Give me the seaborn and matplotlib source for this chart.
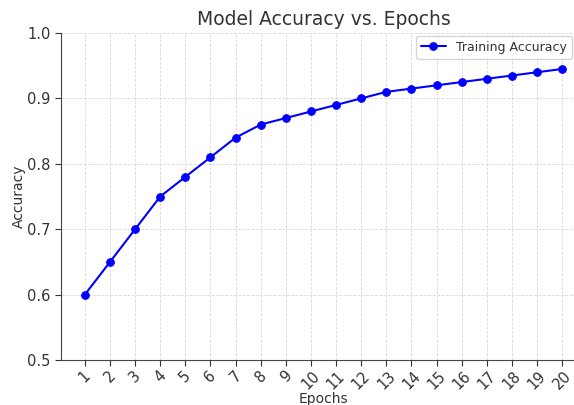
import pandas as pd
import matplotlib.pyplot as plt
import seaborn as sns

epochs = list(range(1, 21))
accuracy = [0.60, 0.65, 0.70, 0.75, 0.78, 0.81, 0.84, 0.86, 0.87, 0.88,
            0.89, 0.90, 0.91, 0.915, 0.92, 0.925, 0.93, 0.935, 0.94, 0.945]

df = pd.DataFrame({"Epochs": epochs, "Accuracy": accuracy})

sns.set_style("whitegrid", {"axes.edgecolor": "#444444",
                            "xtick.bottom": True, "ytick.left": True})
plt.rcParams['font.family'] = ['DejaVu Sans']
plt.rcParams['text.color'] = '#333333'
plt.rcParams['axes.labelcolor'] = '#333333'
plt.rcParams['xtick.color'] = '#333333'
plt.rcParams['ytick.color'] = '#333333'

fig = plt.figure(figsize=(5.74, 4.05), dpi=100)
ax = fig.add_axes([0.1063, 0.1111, 0.9146, 0.8074])

sns.lineplot(data=df, x="Epochs", y="Accuracy", ax=ax, color="blue",
             marker="o", markersize=5.5, markeredgecolor="blue",
             linewidth=1.5, label="Training Accuracy")

ax.set_title("Model Accuracy vs. Epochs", fontsize=13.5, color="#333333")
ax.set_xlabel("Epochs", fontsize=10, labelpad=0)
ax.set_ylabel("Accuracy", fontsize=10, labelpad=1)
ax.set_xticks(epochs)
ax.tick_params(axis="x", labelrotation=45, labelsize=10.5, pad=2, length=4)
ax.tick_params(axis="y", labelsize=10.5, length=4)
ax.set_ylim(0.5, 1.0)
ax.set_xlim(0.05, 20.95)
ax.grid(True, linestyle="--", color="#d8d8d8", linewidth=0.6)
sns.despine(ax=ax)
# keep the legend text inside the canvas
ax.legend(loc="upper right", fontsize=9, bbox_to_anchor=(1.0, 0.918),
          bbox_transform=fig.transFigure, borderaxespad=0.2)

fig.savefig("out.png", dpi=100)
